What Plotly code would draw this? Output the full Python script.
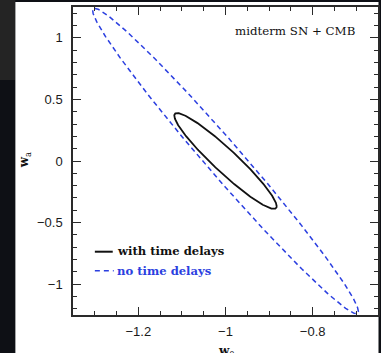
import numpy as np
import plotly.graph_objects as go

# Fisher-style confidence ellipses
series = ["with time delays", "no time delays"]
colors = ["#111111", "#2b3fe0"]
w0_center = [-1.0, -1.0]
wa_center = [0.0, 0.0]
sigma_w0 = [0.1175, 0.305]
sigma_wa = [0.389, 1.24]
rho = [-0.945, -0.985]

x_range = [-1.35, -0.65]
y_range = [-1.25, 1.25]
x_ticks = [-1.2, -1.0, -0.8]
x_ticklabels = ["\u22121.2", "\u22121", "\u22120.8"]
y_ticks = [1.0, 0.5, 0.0, -0.5, -1.0]
y_ticklabels = ["1", "0.5", "0", "\u22120.5", "\u22121"]

fig = go.Figure()
t = np.linspace(0, 2 * np.pi, 400)
styles = [dict(width=1.8, dash="solid"), dict(width=1.5, dash="5px,3.5px")]
for i, name in enumerate(series):
    x = w0_center[i] + sigma_w0[i] * np.cos(t)
    y = wa_center[i] + sigma_wa[i] * (rho[i] * np.cos(t) + np.sqrt(1 - rho[i] ** 2) * np.sin(t))
    fig.add_trace(go.Scatter(x=x, y=y, mode="lines", name=name,
                             line=dict(color=colors[i], **styles[i]),
                             showlegend=False, hoverinfo="skip"))

W, H = 381, 353
L, R, T, B = 73, 1, 7, 38
pw, ph = W - L - R, H - T - B

def px(p):
    return (p - L) / pw

def py(q):
    return (H - B - q) / ph

shapes = [
    dict(type="rect", xref="paper", yref="paper", x0=px(-5), x1=px(W + 5), y0=py(H + 5), y1=py(-5),
         fillcolor="#0e1015", line_width=0, layer="below"),
    dict(type="rect", xref="paper", yref="paper", x0=px(-5), x1=px(15), y0=py(80), y1=py(-5),
         fillcolor="#242424", line_width=0, layer="below"),
    dict(type="rect", xref="paper", yref="paper", x0=px(15), x1=px(380.5), y0=py(H + 5), y1=py(2),
         fillcolor="white", line_width=0, layer="below"),
    # legend samples
    dict(type="line", xref="paper", yref="paper", x0=px(95), x1=px(113), y0=py(251.7), y1=py(251.7),
         line=dict(color=colors[0], width=2)),
    dict(type="line", xref="paper", yref="paper", x0=px(95), x1=px(114), y0=py(270.7), y1=py(270.7),
         line=dict(color=colors[1], width=1.6, dash="5px,4px")),
]

serif = "DejaVu Serif"
annotations = [
    dict(text="midterm SN + CMB", xref="paper", yref="paper", x=px(359), y=py(31),
         xanchor="right", yanchor="middle", showarrow=False,
         font=dict(family=serif, size=11.8, color="#111111")),
    dict(text="<b>" + series[0] + "</b>", xref="paper", yref="paper", x=px(115), y=py(251.5),
         xanchor="left", yanchor="middle", showarrow=False,
         font=dict(family=serif, size=11.6, color=colors[0])),
    dict(text="<b>" + series[1] + "</b>", xref="paper", yref="paper", x=px(115), y=py(270.5),
         xanchor="left", yanchor="middle", showarrow=False,
         font=dict(family=serif, size=11.6, color=colors[1])),
    dict(text="<b>w</b><sub>0</sub>", xref="paper", yref="paper", x=px(228), y=py(342),
         xanchor="center", yanchor="top", showarrow=False,
         font=dict(family=serif, size=12, color="#111111")),
    dict(text="<b>w</b><sub>a</sub>", xref="paper", yref="paper", x=px(25), y=py(160),
         xanchor="center", yanchor="middle", showarrow=False, textangle=-90,
         font=dict(family=serif, size=12, color="#111111")),
]

axis_common = dict(showgrid=False, zeroline=False, showline=True, linecolor="#2a2a2a", linewidth=1.5,
                   mirror="ticks", ticks="inside", ticklen=8, tickwidth=1.3, tickcolor="#2a2a2a",
                   tickfont=dict(family="Liberation Sans", size=13, color="#1a1a1a"))

fig.update_layout(
    width=W, height=H,
    margin=dict(l=L, r=R, t=T, b=B, pad=0),
    paper_bgcolor="#0e1015", plot_bgcolor="white",
    shapes=shapes, annotations=annotations,
    showlegend=False,
    xaxis=dict(range=x_range, tickmode="array", tickvals=x_ticks, ticktext=x_ticklabels,
               minor=dict(dtick=0.05, tick0=-1.0, ticks="inside", ticklen=4, tickwidth=1.1, tickcolor="#2a2a2a"),
               ticklabelstandoff=4, **axis_common),
    yaxis=dict(range=y_range, tickmode="array", tickvals=y_ticks, ticktext=y_ticklabels,
               minor=dict(dtick=0.1, tick0=0.0, ticks="inside", ticklen=4, tickwidth=1.1, tickcolor="#2a2a2a"),
               ticklabelstandoff=6, **axis_common),
)

fig.write_html("out.html")
